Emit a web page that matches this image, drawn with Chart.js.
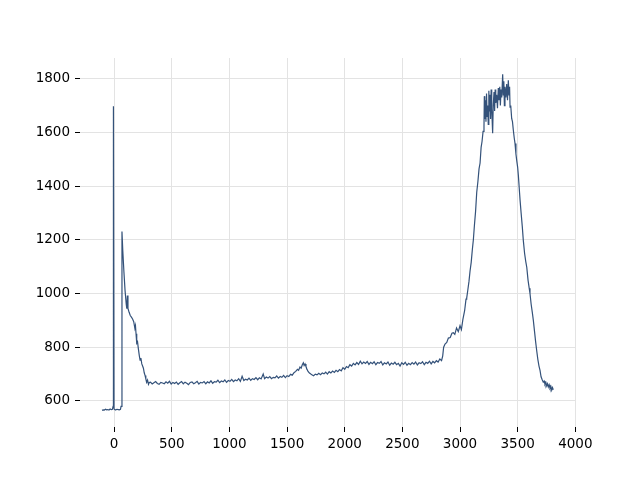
<!DOCTYPE html>
<html>
<head>
<meta charset="utf-8">
<script src="https://cdn.jsdelivr.net/npm/chart.js@4.4.1/dist/chart.umd.min.js"></script>
<style>
  body { margin: 0; background: #fff; }
  #chart { display: block; }
</style>
</head>
<body>
<canvas id="chart" width="640" height="480"></canvas>
<script>
// values
const xs = [
  -105, -95, -85, -75, -65, -55, -45, -35, -25, -15,
  -9, -6, -1, 5, 15, 25, 35, 45, 55, 60,
  68, 75, 85, 95, 105, 110, 115, 120, 130, 140,
  150, 160, 170, 180, 185, 190, 196, 203, 210, 218,
  225, 232, 240, 247, 254, 261, 268, 275, 283, 290,
  298, 305, 315, 330, 345, 360, 375, 390, 405, 420,
  435, 450, 465, 480, 495, 510, 525, 540, 555, 570,
  585, 600, 615, 630, 645, 660, 675, 690, 705, 720,
  735, 750, 765, 780, 795, 810, 825, 840, 855, 870,
  885, 900, 915, 930, 945, 960, 975, 990, 1005, 1020,
  1035, 1050, 1065, 1080, 1095, 1110, 1125, 1140, 1155, 1170,
  1185, 1200, 1215, 1230, 1245, 1260, 1275, 1293, 1305, 1320,
  1335, 1350, 1365, 1380, 1395, 1410, 1425, 1440, 1455, 1470,
  1485, 1500, 1515, 1530, 1545, 1560, 1575, 1590, 1600, 1612,
  1622, 1632, 1641, 1648, 1656, 1664, 1672, 1682, 1694, 1706,
  1718, 1730, 1745, 1760, 1775, 1790, 1805, 1820, 1835, 1850,
  1865, 1880, 1895, 1910, 1925, 1940, 1955, 1970, 1985, 2000,
  2015, 2030, 2045, 2060, 2075, 2090, 2105, 2120, 2135, 2150,
  2165, 2180, 2195, 2210, 2225, 2240, 2255, 2270, 2285, 2300,
  2315, 2330, 2345, 2360, 2375, 2390, 2405, 2420, 2435, 2450,
  2465, 2480, 2495, 2510, 2525, 2540, 2555, 2570, 2585, 2600,
  2615, 2630, 2645, 2660, 2675, 2690, 2705, 2720, 2735, 2750,
  2765, 2780, 2795, 2810, 2825, 2840, 2850, 2858, 2870, 2885,
  2899, 2915, 2930, 2942, 2955, 2970, 2985, 3000, 3012, 3025,
  3040, 3052, 3058, 3068, 3078, 3087, 3097, 3107, 3116, 3125,
  3135, 3145, 3155, 3165, 3174, 3183, 3191, 3200, 3208, 3211,
  3215, 3220, 3225, 3230, 3235, 3240, 3245, 3250, 3255, 3260,
  3265, 3270, 3275, 3283, 3288, 3295, 3300, 3305, 3310, 3318,
  3325, 3332, 3338, 3345, 3350, 3356, 3362, 3370, 3375, 3380,
  3385, 3390, 3398, 3405, 3412, 3419, 3425, 3430, 3434, 3440,
  3448, 3455, 3462, 3470, 3477, 3485, 3492, 3500, 3506, 3514,
  3521, 3530, 3540, 3549, 3560, 3570, 3579, 3590, 3600, 3607,
  3617, 3627, 3636, 3646, 3656, 3665, 3675, 3685, 3694, 3703,
  3712, 3722, 3730, 3737, 3745, 3752, 3759, 3766, 3773, 3780,
  3788, 3795, 3802, 3809
];
const ys = [
  565, 567, 566, 569, 567, 568, 566, 570, 568, 569,
  580, 1697, 570, 568, 567, 569, 568, 567, 569, 580,
  1231, 1160, 1080, 1010, 960, 944, 993, 945, 930, 918,
  912, 905, 895, 870, 880, 850, 815, 820, 795, 770,
  752, 760, 738, 730, 722, 705, 695, 682, 670, 678,
  662, 669, 670, 663, 668, 672, 665, 662, 669, 667,
  664, 671, 666, 673, 663, 669, 665, 670, 662, 668,
  672, 664, 670, 666, 661, 669, 671, 664, 668, 673,
  663, 669, 667, 672, 664, 671, 667, 675, 666, 672,
  670, 677, 668, 674, 671, 678, 669, 676, 673, 680,
  672, 678, 675, 683, 673, 692, 676, 681, 678, 685,
  677, 683, 680, 687, 679, 686, 682, 700, 683, 689,
  685, 691, 683, 688, 686, 693, 685, 691, 688, 695,
  687, 694, 691, 699, 696, 705, 710, 718, 714, 726,
  722, 735, 742, 732, 738, 728, 719, 710, 704, 700,
  697, 694, 700, 697, 703, 698, 704, 701, 707, 700,
  709, 704, 711, 706, 714, 709, 717, 712, 724, 718,
  728, 724, 735, 730, 740, 734, 743, 736, 748, 738,
  745, 740, 747, 736, 744, 739, 746, 735, 743, 740,
  747, 734, 742, 738, 745, 733, 741, 737, 744, 735,
  740, 730, 742, 736, 744, 733, 740, 735, 743, 737,
  745, 734, 742, 739, 746, 735, 744, 740, 748, 738,
  747, 742, 750, 745, 756, 750, 768, 800, 812, 818,
  834, 836, 852, 854, 848, 872, 858, 880, 866, 904,
  936, 979, 983, 1014, 1046, 1084, 1116, 1164, 1201, 1254,
  1306, 1377, 1416, 1464, 1486, 1544, 1566, 1604, 1622, 1735,
  1650, 1720, 1640, 1745, 1660, 1700, 1630, 1755, 1680, 1740,
  1650, 1760, 1690, 1597, 1700, 1750, 1680, 1760, 1710, 1740,
  1690, 1765, 1720, 1770, 1700, 1760, 1730, 1816, 1740, 1790,
  1700, 1770, 1730, 1780, 1720, 1794, 1740, 1770, 1694, 1700,
  1652, 1640, 1610, 1580, 1559, 1520, 1495, 1470, 1440, 1390,
  1347, 1300, 1250, 1198, 1150, 1120, 1098, 1050, 1020, 1000,
  960, 930, 900, 860, 820, 788, 755, 730, 714, 690,
  680, 670, 674, 662, 668, 656, 664, 652, 660, 648,
  654, 640, 650, 642
];
const xTicks = [0, 500, 1000, 1500, 2000, 2500, 3000, 3500, 4000];
const yTicks = [600, 800, 1000, 1200, 1400, 1600, 1800];

const points = xs.map((x, i) => ({ x: x, y: ys[i] }));

const gridOpts = {
  color: '#e3e3e3',
  lineWidth: 1,
  tickColor: '#000',
  tickLength: 5,
  tickWidth: 1
};
const tickFont = { family: 'DejaVu Sans', size: 13.5 };

new Chart(document.getElementById('chart'), {
  type: 'line',
  data: {
    datasets: [{
      data: points,
      borderColor: '#34527a',
      borderWidth: 1.2,
      pointRadius: 0,
      tension: 0,
      fill: false
    }]
  },
  options: {
    responsive: false,
    animation: false,
    devicePixelRatio: 1,
    layout: { padding: { top: 58, right: 64, left: 0, bottom: 0 } },
    plugins: { legend: { display: false }, tooltip: { enabled: false } },
    scales: {
      x: {
        type: 'linear',
        min: -296,
        max: 4006,
        border: { display: false },
        grid: gridOpts,
        ticks: { color: '#000', font: tickFont, padding: 4, maxRotation: 0, callback: v => String(v) },
        afterBuildTicks: function(scale) {
          scale.ticks = xTicks.map(v => ({ value: v }));
        },
        afterFit: function(scale) { scale.height = 53; }
      },
      y: {
        type: 'linear',
        min: 503,
        max: 1877,
        border: { display: false },
        grid: gridOpts,
        ticks: { color: '#000', font: tickFont, padding: 5, callback: v => String(v) },
        afterBuildTicks: function(scale) {
          scale.ticks = yTicks.map(v => ({ value: v }));
        },
        afterFit: function(scale) { scale.width = 80; }
      }
    }
  }
});
</script>
</body>
</html>
